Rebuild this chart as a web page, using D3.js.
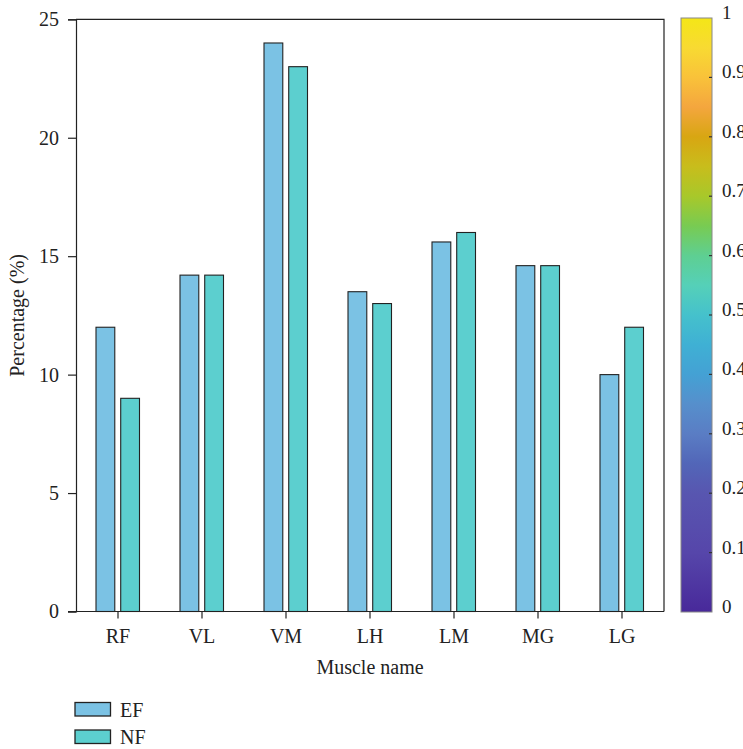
<!DOCTYPE html>
<html>
<head>
<meta charset="utf-8">
<script src="https://cdn.jsdelivr.net/npm/d3@7"></script>
<style>
  html, body { margin: 0; padding: 0; background: #fff; }
  svg { display: block; }
  text { font-family: "Liberation Serif", "DejaVu Serif", serif; fill: #222; }
</style>
</head>
<body>
<svg id="chart" width="743" height="749"></svg>
<script>
// ---- data ----
const categories = ["RF", "VL", "VM", "LH", "LM", "MG", "LG"];
const seriesNames = ["EF", "NF"];
const efValues = [12, 14.2, 24, 13.5, 15.6, 14.6, 10];
const nfValues = [9, 14.2, 23, 13, 16, 14.6, 12];
const yTicks = [0, 5, 10, 15, 20, 25];
const colorbarTicks = [0, 0.1, 0.2, 0.3, 0.4, 0.5, 0.6, 0.7, 0.8, 0.9, 1];
const colorbarTickLabels = ["0", "0.1", "0.2", "0.3", "0.4", "0.5", "0.6", "0.7", "0.8", "0.9", "1"];
const colorbarStops = [
  [0.00, "#48299a"], [0.10, "#5646aa"], [0.20, "#5856b0"], [0.25, "#5266b8"],
  [0.30, "#5a7dc4"], [0.35, "#568fcc"], [0.40, "#44a1d4"], [0.45, "#3fb0d4"],
  [0.50, "#45c1cc"], [0.55, "#55d0b8"], [0.60, "#5ecf92"], [0.65, "#78cb52"],
  [0.70, "#a8c82a"], [0.75, "#c8bd1c"], [0.80, "#d8a612"], [0.85, "#f4a63e"],
  [0.90, "#f9c23a"], [0.95, "#f8da32"], [1.00, "#f4e617"]
];
const seriesColors = ["#7bc2e4", "#5ccfcf"];

// ---- layout ----
const svg = d3.select("#chart");
const plot = { left: 76, right: 664, top: 19.3, bottom: 611.5 };
const ink = "#222";
const fs = "20px";

const x = d3.scaleBand().domain(categories).range([plot.left, plot.right]).padding(0);
const y = d3.scaleLinear().domain([0, 25]).range([plot.bottom, plot.top]);
const inner = d3.scaleBand().domain(seriesNames).range([-22, 21.5]).paddingInner(0.24);

// bars
const groups = svg.append("g").selectAll("g")
  .data(categories.map((c, i) => ({ c, vals: [efValues[i], nfValues[i]] })))
  .join("g")
  .attr("transform", d => `translate(${x(d.c) + x.bandwidth() / 2},0)`);

groups.selectAll("rect")
  .data(d => d.vals.map((v, j) => ({ s: seriesNames[j], v, j })))
  .join("rect")
  .attr("x", d => inner(d.s))
  .attr("width", inner.bandwidth())
  .attr("y", d => y(d.v))
  .attr("height", d => y(0) - y(d.v))
  .attr("fill", d => seriesColors[d.j])
  .attr("stroke", ink)
  .attr("stroke-width", 1.1);

// frame (top and right)
svg.append("path")
  .attr("d", `M${plot.left},${plot.top}H${plot.right}V${plot.bottom}`)
  .attr("fill", "none").attr("stroke", ink).attr("stroke-width", 1.2);

// y axis
const yAxis = svg.append("g")
  .attr("transform", `translate(${plot.left},0)`)
  .call(d3.axisLeft(y).tickValues(yTicks).tickSize(8).tickPadding(9));
yAxis.select(".domain").attr("stroke", ink).attr("stroke-width", 1.2);
yAxis.selectAll(".tick line").attr("stroke", ink).attr("stroke-width", 1.2);
yAxis.selectAll("text").style("font-size", fs).style("font-family", "Liberation Serif, serif").attr("fill", ink);

// x axis
const xAxis = svg.append("g")
  .attr("transform", `translate(0,${plot.bottom})`)
  .call(d3.axisBottom(x).tickSize(7).tickSizeOuter(0).tickPadding(10));
xAxis.select(".domain").attr("d", `M${plot.left - 8},0H${plot.right}`).attr("stroke", ink).attr("stroke-width", 1.2);
xAxis.selectAll(".tick line").attr("stroke", ink).attr("stroke-width", 1.2);
xAxis.selectAll("text").style("font-size", fs).style("font-family", "Liberation Serif, serif").attr("fill", ink);

// axis titles
svg.append("text")
  .attr("x", (plot.left + plot.right) / 2).attr("y", 674)
  .attr("text-anchor", "middle").style("font-size", fs)
  .text("Muscle name");
svg.append("text")
  .attr("transform", `translate(24,${(plot.top + plot.bottom) / 2}) rotate(-90)`)
  .attr("text-anchor", "middle").style("font-size", fs)
  .text("Percentage (%)");

// colorbar
const cb = { x: 681, w: 31, top: 18, bottom: 612 };
const grad = svg.append("defs").append("linearGradient")
  .attr("id", "cbgrad").attr("x1", 0).attr("y1", 1).attr("x2", 0).attr("y2", 0);
grad.selectAll("stop").data(colorbarStops).join("stop")
  .attr("offset", d => d[0]).attr("stop-color", d => d[1]);
const cy = d3.scaleLinear().domain([0, 1]).range([cb.bottom, cb.top]);
svg.append("rect")
  .attr("x", cb.x).attr("y", cb.top).attr("width", cb.w).attr("height", cb.bottom - cb.top)
  .attr("fill", "url(#cbgrad)").attr("stroke", "#888").attr("stroke-width", 1);
svg.append("g").selectAll("line").data(colorbarTicks.slice(1, -1)).join("line")
  .attr("x1", cb.x + cb.w - 3).attr("x2", cb.x + cb.w)
  .attr("y1", d => cy(d)).attr("y2", d => cy(d))
  .attr("stroke", "#333").attr("stroke-width", 1.2);
svg.append("g").selectAll("text").data(colorbarTicks).join("text")
  .attr("x", 722).attr("y", d => cy(d) + 1)
  .style("font-size", "19px")
  .text((d, i) => colorbarTickLabels[i]);

// legend
const legend = svg.append("g").selectAll("g").data(seriesNames).join("g")
  .attr("transform", (d, i) => `translate(75,${702.5 + i * 27.5})`);
legend.append("rect")
  .attr("width", 35.5).attr("height", 13.5)
  .attr("fill", (d, i) => seriesColors[i])
  .attr("stroke", ink).attr("stroke-width", 1.3);
legend.append("text")
  .attr("x", 45).attr("y", 14)
  .style("font-size", fs)
  .text(d => d);
</script>
</body>
</html>
